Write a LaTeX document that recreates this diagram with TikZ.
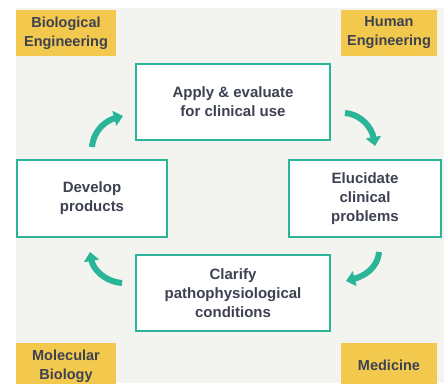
\documentclass[tikz,border=0pt]{standalone}
\usepackage{fontspec}
\setmainfont{Liberation Sans}
\usetikzlibrary{arrows.meta}
\definecolor{bgc}{HTML}{F3F3EF}
\definecolor{ylw}{HTML}{F2C94C}
\definecolor{teal2}{HTML}{2BB598}
\definecolor{txt}{HTML}{3D4152}
\begin{document}
\begin{tikzpicture}[x=1pt,y=1pt,
  field/.style={fill=ylw, draw=none, text=txt, font=\fontsize{14.5}{19}\selectfont\bfseries, align=center, inner sep=0pt},
  stepbox/.style={fill=white, draw=teal2, line width=2pt, text=txt, font=\fontsize{15}{19}\selectfont\bfseries, align=center, inner sep=0pt},
  cyc/.style={draw=teal2, line width=6pt, -{Triangle[width=15pt,length=9pt]}}
]
\useasboundingbox (0,0) rectangle (444,383);
\fill[bgc] (16,0) rectangle (444,375);
% fields
\node[field, minimum width=100pt, minimum height=46pt] (bio) at (66,350) {Biological\\Engineering};
\node[field, minimum width=96pt, minimum height=46pt] (hum) at (389,350) {Human\\Engineering};
\node[field, minimum width=100pt, minimum height=47pt] (mol) at (66,16.5) {Molecular\\Biology};
\node[field, minimum width=96pt, minimum height=44pt] (med) at (389,18) {Medicine};
% steps
\node[stepbox, minimum width=194pt, minimum height=76pt] (apply) at (233,281) {Apply \& evaluate\\for clinical use};
\node[stepbox, minimum width=150pt, minimum height=77pt] (dev) at (92,184.5) {Develop\\products};
\node[stepbox, minimum width=152pt, minimum height=77pt] (elu) at (365,184.5) {Elucidate\\clinical\\problems};
\node[stepbox, minimum width=194pt, minimum height=76pt] (cla) at (233,90) {Clarify\\pathophysiological\\conditions};
% arrow coordinates
\coordinate (a1s) at (92,236);
\coordinate (a1e) at (123,267);
\coordinate (a2s) at (345,270);
\coordinate (a2e) at (375,237);
\coordinate (a3s) at (379,131);
\coordinate (a3e) at (346,102);
\coordinate (a4s) at (122,100);
\coordinate (a4e) at (90,131);
\draw[cyc] (a1s) to[out=85,in=195] (a1e);
\draw[cyc] (a2s) to[out=-5,in=100] (a2e);
\draw[cyc] (a3s) to[out=-95,in=15] (a3e);
\draw[cyc] (a4s) to[out=175,in=-80] (a4e);
\end{tikzpicture}
\end{document}
